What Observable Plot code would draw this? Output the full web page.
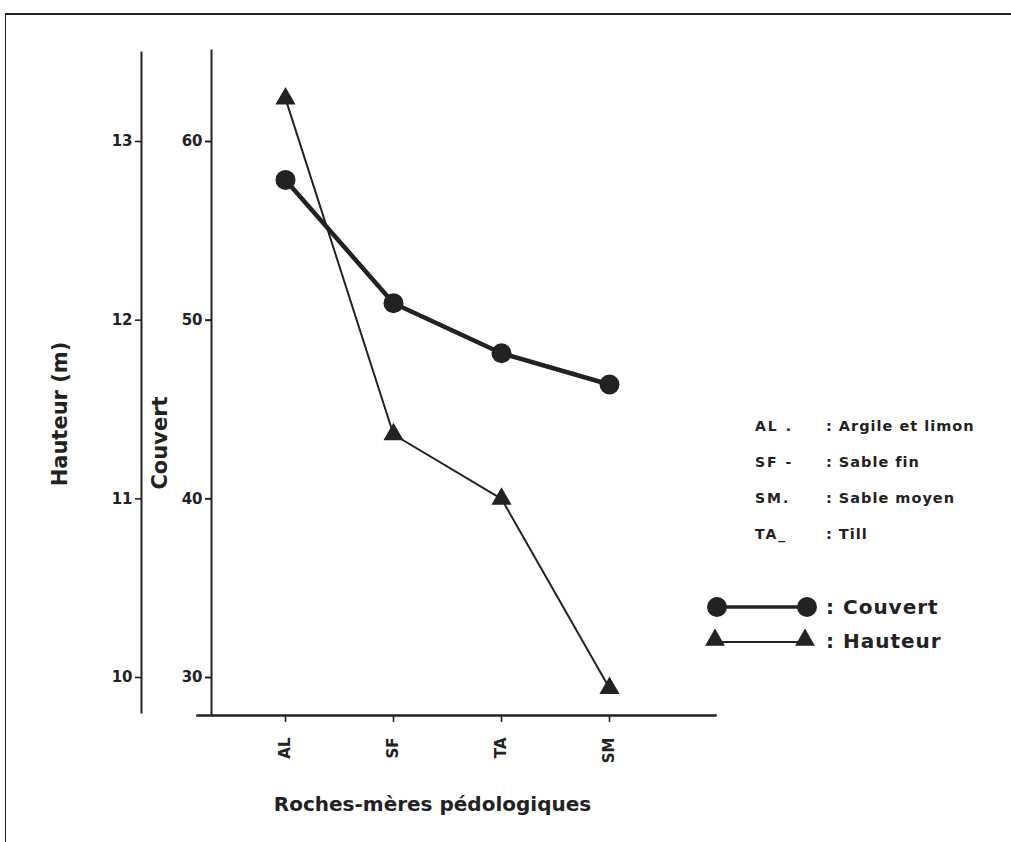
<!DOCTYPE html>
<html><head><meta charset="utf-8">
<script src="https://cdn.jsdelivr.net/npm/d3@7"></script>
<script src="https://cdn.jsdelivr.net/npm/@observablehq/plot@0.6"></script>
<style>
body{margin:0;background:#fff;}
#wrap{position:relative;width:1011px;height:842px;overflow:hidden;background:#fff;}
#border{position:absolute;left:5px;top:13px;width:1020px;height:850px;border-top:2.5px solid #222;border-left:1.5px solid #222;pointer-events:none;}
#legend{position:absolute;left:0;top:0;}
#chart svg{display:block;}
</style></head><body>
<div id="wrap"><div id="chart"></div><div id="border"></div><div id="legend"></div></div>
<script>
// ---- data ----
const categories = ["AL", "SF", "TA", "SM"];
const couvert = [57.85, 50.95, 48.15, 46.4];      // Couvert
const hauteur = [13.24, 11.36, 11.0, 9.94];       // Hauteur (m)
const couvertTicks = [30, 40, 50, 60];
const hauteurTicks = [10, 11, 12, 13];
const legendCodes = ["AL .", "SF -", "SM.", "TA_"];
const legendNames = [": Argile et limon", ": Sable fin", ": Sable moyen", ": Till"];
const seriesNames = ["Couvert", "Hauteur"];

// The Hauteur axis (10–13 m) is aligned with the Couvert axis (30–60)
const hToC = h => 30 + (h - 10) * 10;
const cToH = c => (c - 30) / 10 + 10;

const couvertData = categories.map((c, i) => ({cat: c, v: couvert[i]}));
const hauteurData = categories.map((c, i) => ({cat: c, v: hToC(hauteur[i])}));

const ink = "#222";
const font = "DejaVu Sans";

const chart = Plot.plot({
  width: 1011,
  height: 842,
  marginLeft: 211,
  marginRight: 296,
  marginTop: 50,
  marginBottom: 127,
  style: {fontFamily: font, color: ink, background: "transparent"},
  x: {type: "point", domain: categories, range: [285, 609], padding: 0, axis: null},
  y: {domain: [30, 60], range: [677, 141], axis: null},
  marks: [
    // axis lines
    Plot.frame({anchor: "left", stroke: ink, strokeWidth: 2}),
    Plot.frame({anchor: "bottom", stroke: ink, strokeWidth: 2.5, insetLeft: -14}),
    Plot.frame({anchor: "left", stroke: ink, strokeWidth: 2, dx: -70, insetTop: 2, insetBottom: 3}),
    // Couvert axis
    Plot.axisY({anchor: "left", ticks: couvertTicks, tickSize: 6, tickPadding: 3, label: null,
      strokeWidth: 2, fontSize: 15, fontWeight: "bold", tickFormat: d => String(d)}),
    // Hauteur axis
    Plot.axisY({anchor: "left", ticks: hauteurTicks.map(hToC), tickSize: 6, tickPadding: 3, label: null,
      dx: -70, strokeWidth: 1.6, fontSize: 15, fontWeight: "bold", letterSpacing: 2,
      tickFormat: d => String(Math.round(cToH(d)))}),
    // x axis ticks
    Plot.axisX({anchor: "bottom", ticks: categories, tickSize: 7, strokeWidth: 1.6, label: null, tickFormat: () => ""}),
    Plot.text(categories, {x: d => d, frameAnchor: "bottom", rotate: -90, textAnchor: "end", lineAnchor: "middle",
      dy: 22, fontSize: 15, fontWeight: "bold", letterSpacing: 4, fill: ink}),
    // axis titles
    Plot.text(["Roches-mères pédologiques"], {frameAnchor: "bottom", textAnchor: "middle", lineAnchor: "middle",
      dx: -31, dy: 89, fontSize: 20, fontWeight: "bold", fill: ink, letterSpacing: 1.2}),
    Plot.text(["Hauteur (m)"], {frameAnchor: "left", rotate: -90, textAnchor: "middle", lineAnchor: "middle",
      dx: -151, dy: 31, fontSize: 21, fontWeight: "bold", fill: ink, letterSpacing: 1.5}),
    Plot.text(["Couvert"], {frameAnchor: "left", rotate: -90, textAnchor: "middle", lineAnchor: "middle",
      dx: -51, dy: 60, fontSize: 21, fontWeight: "bold", fill: ink, letterSpacing: 1}),
    // series
    Plot.line(hauteurData, {x: "cat", y: "v", stroke: ink, strokeWidth: 2}),
    Plot.dot(hauteurData, {x: "cat", y: "v", symbol: "triangle", r: 7.5, fill: ink}),
    Plot.line(couvertData, {x: "cat", y: "v", stroke: ink, strokeWidth: 4.5}),
    Plot.dot(couvertData, {x: "cat", y: "v", r: 10, fill: ink})
  ]
});
document.getElementById("chart").appendChild(chart);

// ---- legend (overlay) ----
const lg = d3.select("#legend").append("svg")
  .attr("width", 1011).attr("height", 842)
  .style("font-family", font).style("fill", ink);
const rowsY = [426, 462, 498, 534];
legendCodes.forEach((code, i) => {
  lg.append("text").attr("x", 755).attr("y", rowsY[i]).attr("dy", "0.35em")
    .attr("font-size", 14).attr("font-weight", "bold").attr("letter-spacing", 2).text(code);
  lg.append("text").attr("x", 826).attr("y", rowsY[i]).attr("dy", "0.35em")
    .attr("font-size", 14.5).attr("font-weight", "bold").attr("letter-spacing", 1).text(legendNames[i]);
});
// Couvert legend row
lg.append("line").attr("x1", 717).attr("x2", 807).attr("y1", 607).attr("y2", 607)
  .attr("stroke", ink).attr("stroke-width", 3.5);
[717, 807].forEach(x => lg.append("circle").attr("cx", x).attr("cy", 607).attr("r", 10).attr("fill", ink));
lg.append("text").attr("x", 826).attr("y", 607).attr("dy", "0.35em")
  .attr("font-size", 20).attr("font-weight", "bold").attr("letter-spacing", 1).text(": " + seriesNames[0]);
// Hauteur legend row
lg.append("line").attr("x1", 715).attr("x2", 805).attr("y1", 642).attr("y2", 642)
  .attr("stroke", ink).attr("stroke-width", 2);
const tri = d3.symbol(d3.symbolTriangle, 170);
[715, 805].forEach(x => lg.append("path").attr("d", tri()).attr("transform", `translate(${x},640)`).attr("fill", ink));
lg.append("text").attr("x", 826).attr("y", 641).attr("dy", "0.35em")
  .attr("font-size", 20).attr("font-weight", "bold").attr("letter-spacing", 1).text(": " + seriesNames[1]);
</script>
</body></html>
